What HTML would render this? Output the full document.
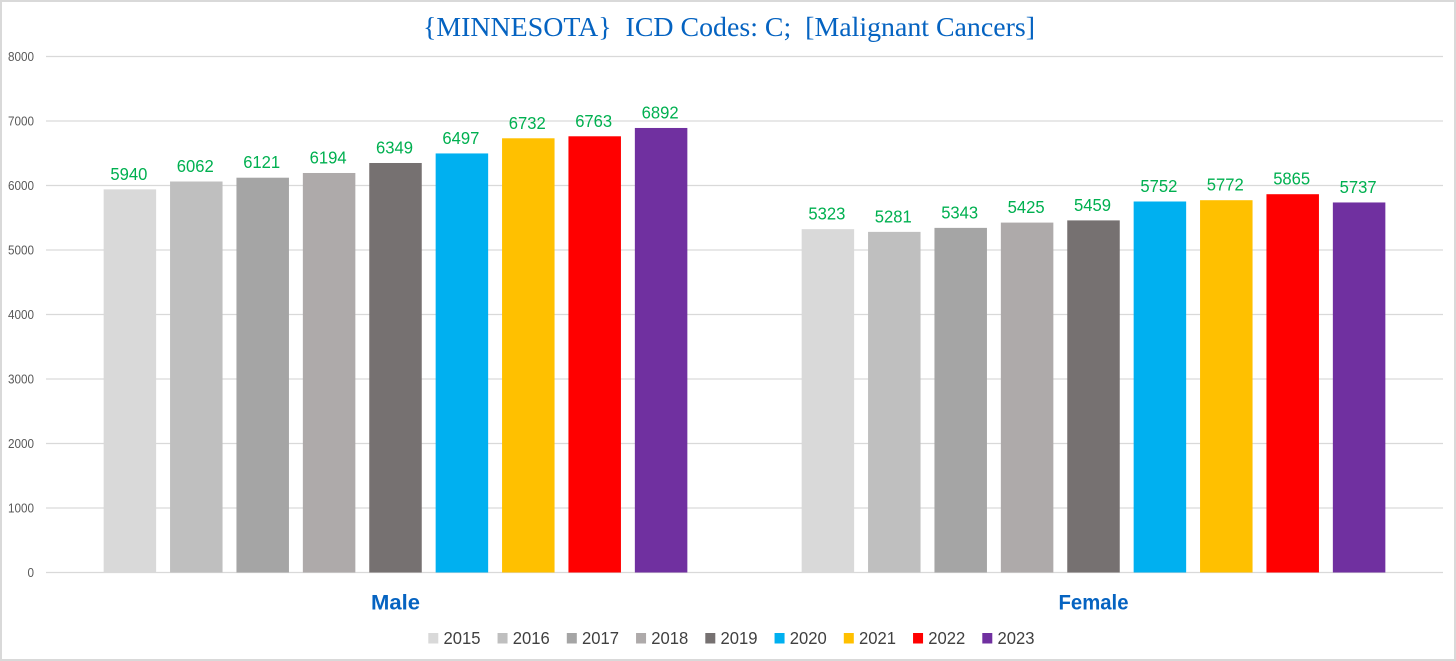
<!DOCTYPE html>
<html lang="en">
<head>
<meta charset="utf-8">
<title>Minnesota ICD Codes C - Malignant Cancers</title>
<style>
html,body{margin:0;padding:0;background:#fff;}
svg{display:block;}
text{font-family:"Liberation Sans",sans-serif;}
</style>
</head>
<body>
<svg id="chart" xmlns="http://www.w3.org/2000/svg" width="1456" height="661" viewBox="0 0 1456 661">
<rect x="1" y="1" width="1454" height="659" fill="#fff" stroke="#d9d9d9" stroke-width="2"/>
<text x="729" y="36" text-anchor="middle" textLength="612" lengthAdjust="spacingAndGlyphs" style="font-family:'Liberation Serif',serif;font-size:27px;white-space:pre" fill="#0563c1">{MINNESOTA}  ICD Codes: C;  [Malignant Cancers]</text>
<g id="grid"></g>
<g id="bars"></g>
<g id="labels"></g>
<g id="cats"></g>
<g id="legend"></g>
</svg>
<script>
const categories = ['Male', 'Female'];
const years = ['2015', '2016', '2017', '2018', '2019', '2020', '2021', '2022', '2023'];
const maleValues = [5940, 6062, 6121, 6194, 6349, 6497, 6732, 6763, 6892];
const femaleValues = [5323, 5281, 5343, 5425, 5459, 5752, 5772, 5865, 5737];
const yTicks = [0, 1000, 2000, 3000, 4000, 5000, 6000, 7000, 8000];
const yearColors = ['#d9d9d9', '#bfbfbf', '#a5a5a5', '#aeaaaa', '#767171', '#00b0f0', '#ffc000', '#ff0000', '#7030a0'];

const NS = 'http://www.w3.org/2000/svg';
const plotLeft = 46, plotRight = 1443, plotTop = 56.5, plotBottom = 572.5;
const yMax = 8000, barWidth = 52.5, barStep = 66.4;
const groupCenters = [395.5, 1093.5];

function yScale(v) {
  return plotBottom - (v / yMax) * (plotBottom - plotTop);
}
function xScale(groupIndex, yearIndex) {
  return groupCenters[groupIndex] + (yearIndex - (years.length - 1) / 2) * barStep;
}
function make(tag, attrs, parent, txt) {
  const el = document.createElementNS(NS, tag);
  Object.keys(attrs).forEach(k => el.setAttribute(k, attrs[k]));
  if (txt !== undefined) el.textContent = txt;
  parent.appendChild(el);
  return el;
}

const gGrid = document.getElementById('grid');
const gBars = document.getElementById('bars');
const gLabels = document.getElementById('labels');
const gCats = document.getElementById('cats');
const gLegend = document.getElementById('legend');

yTicks.forEach(t => {
  const line = make('line', {x1: plotLeft, x2: plotRight, y1: yScale(t), y2: yScale(t), stroke: '#d9d9d9', 'stroke-width': 1.2}, gGrid);
  
  
  const lab = make('text', {x: 34, y: yScale(t) + 4.4, 'text-anchor': 'end', fill: '#595959', 'font-size': 12.5, textLength: String(t).length * 6.5, lengthAdjust: 'spacingAndGlyphs'}, gGrid, String(t));
  
  
});

[maleValues, femaleValues].forEach((series, g) => {
  series.forEach((v, i) => {
    const cx = xScale(g, i);
    const top = yScale(v);
    const bar = make('rect', {x: cx - barWidth / 2, y: top, width: barWidth, height: plotBottom - top, fill: yearColors[i]}, gBars);
    
    
    const lab = make('text', {x: cx - 1, y: top - 9.5, 'text-anchor': 'middle', fill: '#00b050', 'font-size': 17.5, textLength: 37, lengthAdjust: 'spacingAndGlyphs'}, gLabels, String(v));
    
    
  });
  const cat = make('text', {x: groupCenters[g], y: 609.5, 'text-anchor': 'middle', fill: '#0563c1', 'font-size': 21, 'font-weight': 'bold', textLength: g === 0 ? 49 : 70, lengthAdjust: 'spacingAndGlyphs'}, gCats, categories[g]);
  
  
});

years.forEach((y, i) => {
  const lx = 428.3 + i * 69.25;
  const sw = make('rect', {x: lx, y: 633, width: 10, height: 10.5, fill: yearColors[i]}, gLegend);
  
  
  const t = make('text', {x: lx + 15.2, y: 644, fill: '#404040', 'font-size': 17.5, textLength: 37, lengthAdjust: 'spacingAndGlyphs'}, gLegend, y);
  
  
});
</script>
</body>
</html>
